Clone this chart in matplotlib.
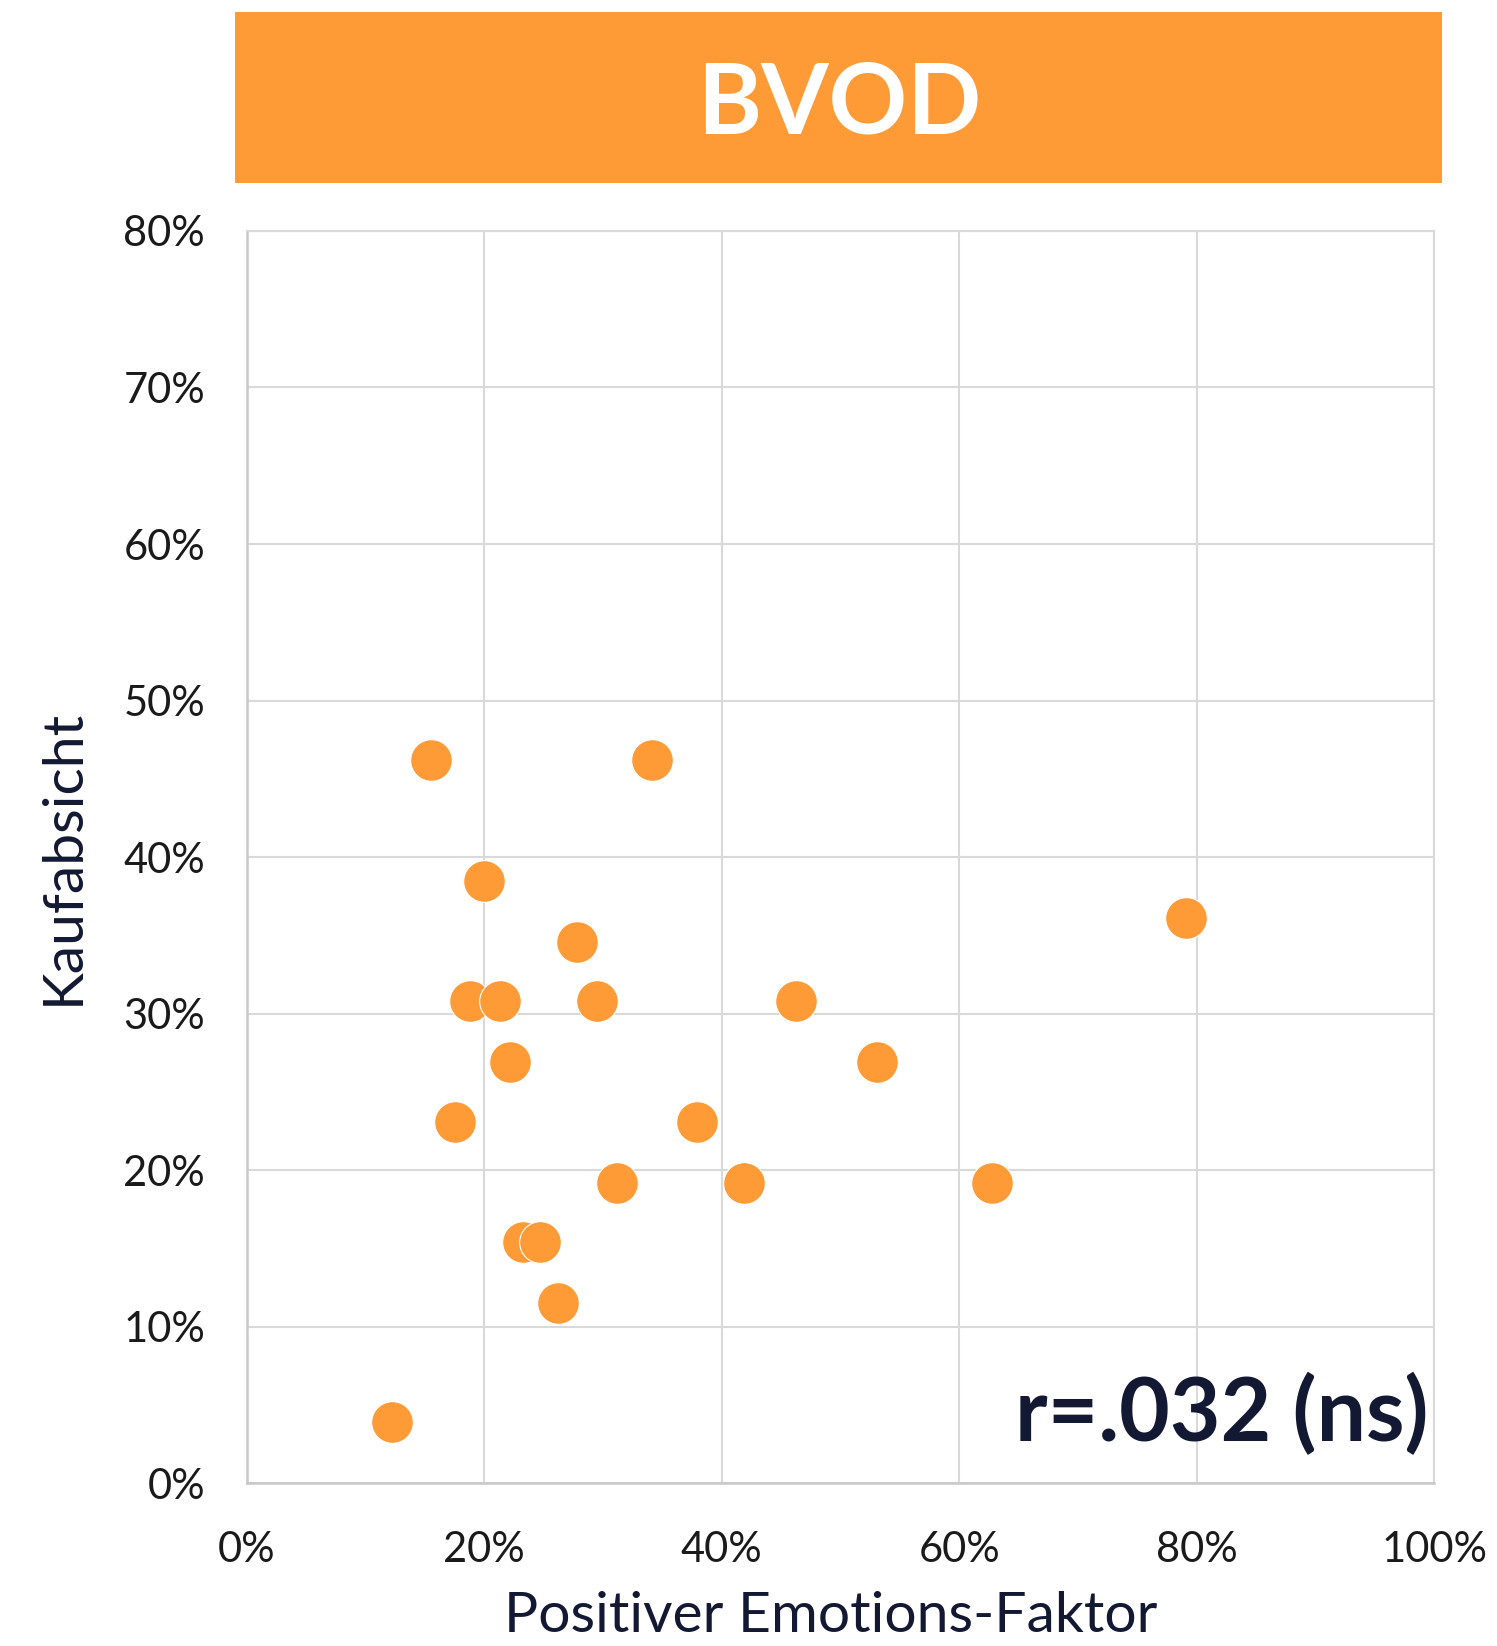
import matplotlib
matplotlib.use("Agg")
import matplotlib.pyplot as plt
from matplotlib.ticker import FuncFormatter, MultipleLocator
from matplotlib.patches import Rectangle

# Data (percent)
emotion_factor = [15.5, 34.1, 20.0, 27.8, 79.1, 18.8, 21.3, 29.5, 46.3, 22.2,
                  53.1, 17.5, 37.9, 31.2, 41.9, 62.8, 23.3, 24.7, 26.2, 12.2]
kaufabsicht = [46.2, 46.2, 38.5, 34.6, 36.1, 30.8, 30.8, 30.8, 30.8, 26.9,
               26.9, 23.1, 23.1, 19.2, 19.2, 19.2, 15.4, 15.4, 11.5, 3.9]
title = "BVOD"
x_label = "Positiver Emotions-Faktor"
y_label = "Kaufabsicht"
annotation = "r=.032 (ns)"

ORANGE = "#FF9B37"
NAVY = "#141933"
GRID = "#D9D9D9"
FONT = ["Lato", "DejaVu Sans"]

plt.rcParams['font.family'] = FONT

fig = plt.figure(figsize=(14.97, 16.46), dpi=100)
fig.patch.set_facecolor("white")

# Header banner
fig.patches.append(Rectangle((0.157, 0.889), 0.806, 0.1035, transform=fig.transFigure,
                             facecolor=ORANGE, edgecolor="none"))
fig.text(0.5605, 0.936, title, color="white", fontsize=70, fontweight="bold",
         ha="center", va="center", family=FONT)

ax = fig.add_axes([0.1648, 0.0988, 0.958 - 0.1648, 0.8597 - 0.0988])
ax.set_facecolor("white")
ax.set_xlim(0, 100)
ax.set_ylim(0, 80)
ax.xaxis.set_major_locator(MultipleLocator(20))
ax.yaxis.set_major_locator(MultipleLocator(10))
pct = FuncFormatter(lambda v, p: f"{v:.0f}%")
ax.xaxis.set_major_formatter(pct)
ax.yaxis.set_major_formatter(pct)
ax.grid(True, color=GRID, linewidth=1.5, zorder=0)
ax.set_axisbelow(True)
for side in ["top", "right"]:
    ax.spines[side].set_color(GRID)
    ax.spines[side].set_linewidth(1.5)
for side in ["left", "bottom"]:
    ax.spines[side].set_color("#C8C8C8")
    ax.spines[side].set_linewidth(1.8)
ax.tick_params(length=0, labelsize=30, labelcolor="#1a1a1a")
ax.tick_params(axis="y", pad=30)
ax.tick_params(axis="x", pad=34)

ax.scatter(emotion_factor, kaufabsicht, s=900, color=ORANGE, edgecolors="white",
           linewidths=0.8, zorder=3, clip_on=False)

ax.set_xlabel(x_label, fontsize=41, color=NAVY)
ax.xaxis.set_label_coords(0.492, -0.086)
ax.set_ylabel(y_label, fontsize=41, color=NAVY)
ax.yaxis.set_label_coords(-0.133, 0.5)

ax.text(0.995, 0.055, annotation, transform=ax.transAxes, ha="right", va="center",
        fontsize=63, fontweight="bold", color=NAVY, zorder=4)

fig.savefig("out.png", dpi=100, facecolor="white")
